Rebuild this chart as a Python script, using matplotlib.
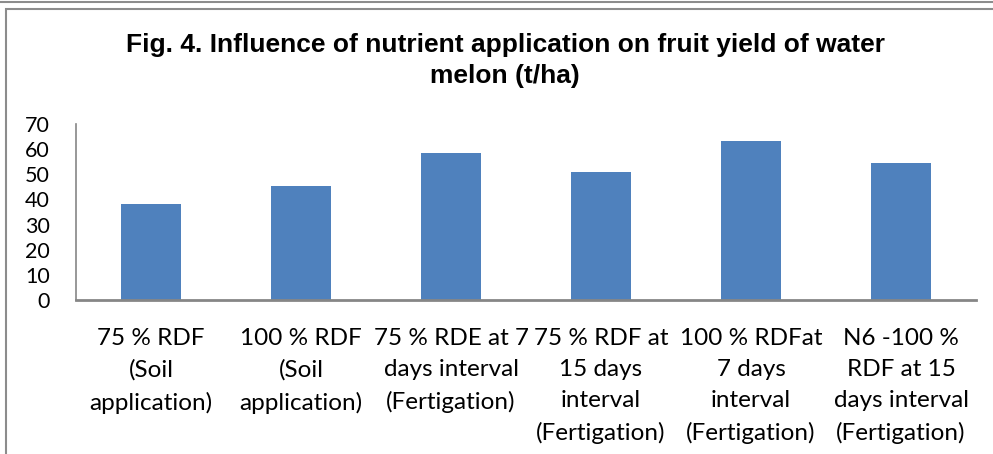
import matplotlib
matplotlib.use("Agg")
import matplotlib.pyplot as plt
from matplotlib.patches import Rectangle
from matplotlib.lines import Line2D

# Fruit yield (t/ha) per treatment
treatments = [
    "75 % RDF\n(Soil\napplication)",
    "100 % RDF\n(Soil\napplication)",
    "75 % RDE at 7\ndays interval\n(Fertigation)",
    "75 % RDF at\n15 days\ninterval\n(Fertigation)",
    "100 % RDFat\n7 days\ninterval\n(Fertigation)",
    "N6 -100 %\nRDF at 15\ndays interval\n(Fertigation)",
]
yield_tha = [38.1, 45.5, 58.4, 50.8, 63.4, 54.3]
y_ticks = [0, 10, 20, 30, 40, 50, 60, 70]

BAR_COLOR = "#4F81BD"
AXIS_COLOR = "#868686"
LABEL_FONT = ["Lato", "DejaVu Sans"]

W, H = 993, 454
fig = plt.figure(figsize=(W / 100, H / 100), dpi=100)
ax = fig.add_axes([76 / W, 1 - 300 / H, 900 / W, 176 / H])

x = list(range(len(treatments)))
ax.bar(x, yield_tha, width=0.4, color=BAR_COLOR, edgecolor="none", zorder=2)

ax.set_xlim(-0.5, len(treatments) - 0.5)
ax.set_ylim(0, 70)
ax.set_yticks(y_ticks)
ax.set_yticklabels([str(v) for v in y_ticks], fontsize=15.5, family=LABEL_FONT)
ax.set_xticks(x)
ax.set_xticklabels(treatments, fontsize=17.5, family=LABEL_FONT, linespacing=1.6)
ax.tick_params(axis="y", length=0, pad=19)
ax.tick_params(axis="x", length=0, pad=20)

for side in ["top", "right"]:
    ax.spines[side].set_visible(False)
ax.spines["left"].set_color(AXIS_COLOR)
ax.spines["left"].set_linewidth(1.2)
ax.spines["bottom"].set_color(AXIS_COLOR)
ax.spines["bottom"].set_linewidth(2)

# title
fig.text(505 / W, 1 - 33 / H,
         "Fig. 4. Influence of nutrient application on fruit yield of water\nmelon (t/ha)",
         ha="center", va="top", fontsize=19, fontweight="bold",
         family=["Liberation Sans", "DejaVu Sans"], linespacing=1.38)

# chart frame and the edge of the element above it
fig.patches.append(Rectangle((6 / W, -0.1), 1.2, 1.1 - 8.5 / H, transform=fig.transFigure,
                             fill=False, edgecolor="#8c8c8c", linewidth=1.5))
fig.lines.append(Line2D([0, 1], [1 - 1.5 / H, 1 - 1.5 / H], transform=fig.transFigure,
                        color="#8c8c8c", linewidth=1.5))

fig.savefig("out.png", dpi=100)
